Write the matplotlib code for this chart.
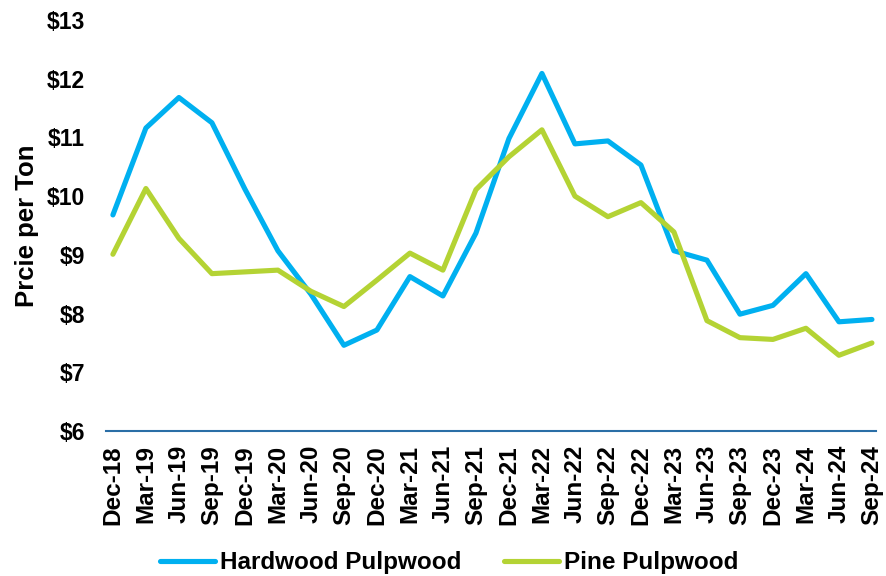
import matplotlib
matplotlib.use("Agg")
import matplotlib.pyplot as plt
from matplotlib.ticker import FuncFormatter

plt.rcParams['font.family'] = ['Liberation Sans', 'DejaVu Sans']
plt.rcParams['font.weight'] = 'bold'

# quarterly labels
quarters = ["Dec-18", "Mar-19", "Jun-19", "Sep-19", "Dec-19", "Mar-20", "Jun-20", "Sep-20",
            "Dec-20", "Mar-21", "Jun-21", "Sep-21", "Dec-21", "Mar-22", "Jun-22", "Sep-22",
            "Dec-22", "Mar-23", "Jun-23", "Sep-23", "Dec-23", "Mar-24", "Jun-24", "Sep-24"]

# price per ton
hardwood = [9.68, 11.16, 11.68, 11.25, 10.12, 9.07, 8.33, 7.46,
            7.72, 8.63, 8.30, 9.37, 10.98, 12.09, 10.89, 10.94,
            10.53, 9.07, 8.91, 7.99, 8.14, 8.68, 7.86, 7.90]
pine = [9.01, 10.13, 9.28, 8.68, 8.71, 8.74, 8.38, 8.12,
        8.57, 9.03, 8.74, 10.11, 10.67, 11.13, 10.00, 9.65,
        9.89, 9.39, 7.88, 7.59, 7.56, 7.75, 7.29, 7.50]

yticks = [6, 7, 8, 9, 10, 11, 12, 13]


def plot_prices(out_file="out.png"):
    fig = plt.figure(figsize=(8.86, 5.76), dpi=100)
    ax = fig.add_axes([0.1196, 0.2517, 0.869, 0.7136])

    x = list(range(len(quarters)))
    ax.plot(x, hardwood, color='#00B0F0', lw=3.7, label="Hardwood Pulpwood",
            solid_capstyle='round', solid_joinstyle='round')
    ax.plot(x, pine, color='#B4D334', lw=3.7, label="Pine Pulpwood",
            solid_capstyle='round', solid_joinstyle='round')

    ax.set_xlim(-0.21, 23.12)
    ax.set_ylim(6, 13)
    ax.set_yticks(yticks)
    ax.yaxis.set_major_formatter(FuncFormatter(lambda v, p: f"${v:.0f}"))
    ax.set_xticks(x)
    ax.set_xticklabels(quarters, rotation=90, fontsize=17.5, fontweight='bold')

    ax.tick_params(axis='y', length=0, pad=15, labelsize=16.5)
    ax.tick_params(axis='x', length=0, pad=10)

    for side in ['top', 'right', 'left']:
        ax.spines[side].set_visible(False)
    ax.spines['bottom'].set_color('#2A6EA6')
    ax.spines['bottom'].set_linewidth(1.5)

    ax.set_ylabel("Prcie per Ton", fontsize=18.5, fontweight='bold')
    ax.yaxis.set_label_coords(-0.087, 0.5)

    fig.legend(loc='center', bbox_to_anchor=(0.507, 0.023), ncol=2, frameon=False,
               fontsize=17.5, handlelength=2.26, handletextpad=0.2,
               columnspacing=1.75, borderpad=0)

    fig.savefig(out_file, dpi=100)


if __name__ == "__main__":
    plot_prices()
